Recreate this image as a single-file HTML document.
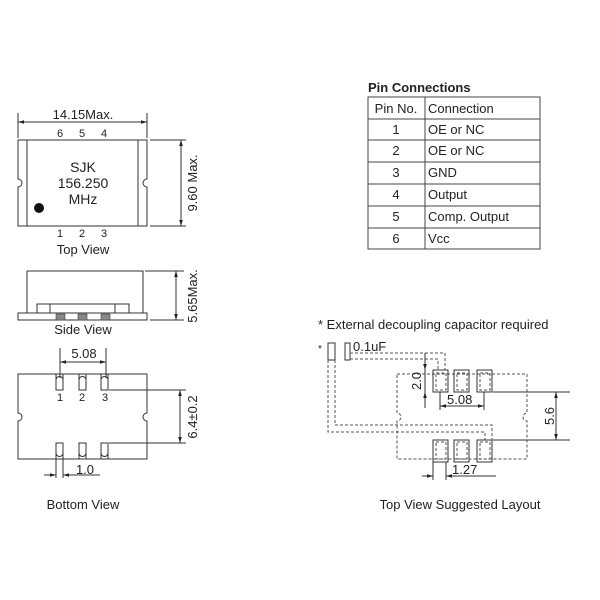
<!DOCTYPE html>
<html><head><meta charset="utf-8"><style>
body{margin:0;background:#fff}
svg{display:block;font-family:"Liberation Sans",sans-serif}
text{fill:#222}
</style></head><body>
<svg width="600" height="600" viewBox="0 0 600 600" xmlns="http://www.w3.org/2000/svg">
<defs>
<marker id="a" viewBox="0 0 10 10" refX="10" refY="5" markerWidth="6" markerHeight="6" orient="auto-start-reverse"><path d="M0,2 L10,5 L0,8z" fill="#222"/></marker>
</defs>
<g stroke="#333" stroke-width="1" fill="none">
<path d="M18,140 H147 V179 a4,4 0 0 0 0,8 V226 H18 V187 a4,4 0 0 0 0,-8 Z" fill="#fff"/>
<line x1="27" y1="140" x2="27" y2="226"/><line x1="138" y1="140" x2="138" y2="226"/>
<line x1="18" y1="113" x2="18" y2="138"/><line x1="147" y1="113" x2="147" y2="138"/>
<line x1="18" y1="122" x2="147" y2="122" marker-start="url(#a)" marker-end="url(#a)"/>
<line x1="150" y1="140" x2="186" y2="140"/><line x1="150" y1="226" x2="186" y2="226"/>
<line x1="181" y1="140" x2="181" y2="226" marker-start="url(#a)" marker-end="url(#a)"/>
<rect x="27" y="271" width="116" height="42"/>
<rect x="37" y="304" width="92" height="9"/>
<line x1="50" y1="304" x2="50" y2="313"/><line x1="115" y1="304" x2="115" y2="313"/>
<rect x="18" y="313" width="129" height="7"/>
<line x1="145" y1="271" x2="184" y2="271"/><line x1="150" y1="320" x2="184" y2="320"/>
<line x1="176" y1="271" x2="176" y2="320" marker-start="url(#a)" marker-end="url(#a)"/>
<path d="M18,374 H147 V413 a4,4 0 0 0 0,8 V459 H18 V421 a4,4 0 0 0 0,-8 Z"/>
<path d="M56,374 V390 H63 V374 M56,380 a3.5,3.5 0 0 1 7,0"/>
<path d="M79,374 V390 H86 V374 M79,380 a3.5,3.5 0 0 1 7,0"/>
<path d="M101,374 V390 H108 V374 M101,380 a3.5,3.5 0 0 1 7,0"/>
<path d="M56,459 V443 H63 V459 M56,453 a3.5,3.5 0 0 0 7,0"/>
<path d="M79,459 V443 H86 V459 M79,453 a3.5,3.5 0 0 0 7,0"/>
<path d="M101,459 V443 H108 V459 M101,453 a3.5,3.5 0 0 0 7,0"/>
<line x1="60" y1="348" x2="60" y2="378"/><line x1="106" y1="348" x2="106" y2="378"/>
<line x1="60" y1="362" x2="106" y2="362" marker-start="url(#a)" marker-end="url(#a)"/>
<line x1="109" y1="390" x2="186" y2="390"/><line x1="109" y1="443" x2="186" y2="443"/>
<line x1="180" y1="390" x2="180" y2="443" marker-start="url(#a)" marker-end="url(#a)"/>
<line x1="56" y1="450" x2="56" y2="478"/><line x1="63" y1="450" x2="63" y2="478"/>
<line x1="44" y1="475" x2="56" y2="475" marker-end="url(#a)"/>
<line x1="75" y1="475" x2="63" y2="475" marker-end="url(#a)"/>
<line x1="75" y1="475" x2="100" y2="475"/>
<rect x="368" y="97" width="172" height="152" stroke="#444"/>
<line x1="425" y1="97" x2="425" y2="249" stroke="#444"/>
<g stroke="#444"><line x1="368" y1="119" x2="540" y2="119"/><line x1="368" y1="140" x2="540" y2="140"/><line x1="368" y1="162" x2="540" y2="162"/><line x1="368" y1="184" x2="540" y2="184"/><line x1="368" y1="206" x2="540" y2="206"/><line x1="368" y1="228" x2="540" y2="228"/></g>
<rect x="328" y="343" width="7" height="17"/><rect x="345" y="343" width="5" height="17"/>
<g stroke-dasharray="3,2" stroke="#555">
<path d="M350,353 H445 V370"/><path d="M350,359 H438 V370"/>
<path d="M397,374 H527 V413 a3,3 0 0 0 0,8 V459 H397 V421 a3,3 0 0 0 0,-8 Z"/>
<path d="M328,360 V432 H485 V440"/><path d="M335,360 V425 H492 V440"/>
<rect x="436" y="373" width="10" height="17"/><rect x="457" y="373" width="10" height="17"/><rect x="480" y="373" width="10" height="17"/>
<rect x="436" y="442" width="10" height="17"/><rect x="457" y="442" width="10" height="17"/><rect x="480" y="442" width="10" height="17"/>
</g>
<rect x="433" y="370" width="15" height="22"/><rect x="454" y="370" width="15" height="22"/><rect x="477" y="370" width="15" height="22"/>
<rect x="433" y="440" width="15" height="22"/><rect x="454" y="440" width="15" height="22"/><rect x="477" y="440" width="15" height="22"/>
<line x1="425" y1="353" x2="425" y2="370" marker-end="url(#a)"/>
<line x1="425" y1="408" x2="425" y2="392" marker-end="url(#a)"/>
<line x1="425" y1="370" x2="425" y2="392"/>
<line x1="440" y1="392" x2="440" y2="410"/><line x1="484" y1="392" x2="484" y2="410"/>
<line x1="440" y1="406" x2="484" y2="406" marker-start="url(#a)" marker-end="url(#a)"/>
<line x1="493" y1="392" x2="570" y2="392"/><line x1="493" y1="440" x2="570" y2="440"/>
<line x1="556" y1="392" x2="556" y2="440" marker-start="url(#a)" marker-end="url(#a)"/>
<line x1="433" y1="462" x2="433" y2="480"/><line x1="446" y1="462" x2="446" y2="480"/>
<line x1="422" y1="476" x2="433" y2="476" marker-end="url(#a)"/>
<line x1="458" y1="476" x2="446" y2="476" marker-end="url(#a)"/>
<line x1="458" y1="476" x2="496" y2="476"/>
</g>
<circle cx="39" cy="208" r="5" fill="#111"/>
<g fill="#888" stroke="#444" stroke-width="0.6"><rect x="56" y="314" width="9" height="6"/><rect x="78" y="314" width="9" height="6"/><rect x="101" y="314" width="9" height="6"/></g>
<g font-size="13" text-anchor="middle">
<text x="83" y="119">14.15Max.</text>
<text x="60" y="137" font-size="11">6</text><text x="82" y="137" font-size="11">5</text><text x="104" y="137" font-size="11">4</text>
<text x="83" y="172" font-size="14">SJK</text><text x="83" y="188" font-size="14">156.250</text><text x="83" y="204" font-size="14">MHz</text>
<text x="60" y="237" font-size="11">1</text><text x="82" y="237" font-size="11">2</text><text x="104" y="237" font-size="11">3</text>
<text x="83" y="254">Top View</text>
<text x="83" y="334">Side View</text>
<text transform="translate(197,183) rotate(-90)">9.60 Max.</text>
<text transform="translate(197,296) rotate(-90)">5.65Max.</text>
<text x="84" y="358">5.08</text>
<text x="60" y="401" font-size="11">1</text><text x="82" y="401" font-size="11">2</text><text x="105" y="401" font-size="11">3</text>
<text transform="translate(197,417) rotate(-90)">6.4±0.2</text>
<text x="85" y="474">1.0</text>
<text x="83" y="509">Bottom View</text>
<text x="396" y="113">Pin No.</text>
<text x="396" y="134">1</text><text x="396" y="155">2</text><text x="396" y="177">3</text><text x="396" y="199">4</text><text x="396" y="221">5</text><text x="396" y="243">6</text>
<g text-anchor="start">
<text x="368" y="92" font-weight="bold">Pin Connections</text>
<text x="428" y="113">Connection</text><text x="428" y="134">OE or NC</text><text x="428" y="155">OE or NC</text><text x="428" y="177">GND</text><text x="428" y="199">Output</text><text x="428" y="221">Comp. Output</text><text x="428" y="243">Vcc</text>
<text x="318" y="329">* External decoupling capacitor required</text>
<text x="318" y="352" font-size="10">*</text>
<text x="353" y="351">0.1uF</text>
<text x="447" y="404">5.08</text>
<text x="452" y="474">1.27</text>
</g>
<text transform="translate(421,381) rotate(-90)">2.0</text>
<text transform="translate(554,416) rotate(-90)">5.6</text>
<text x="460" y="509">Top View Suggested Layout</text>
</g>
</svg>
</body></html>
